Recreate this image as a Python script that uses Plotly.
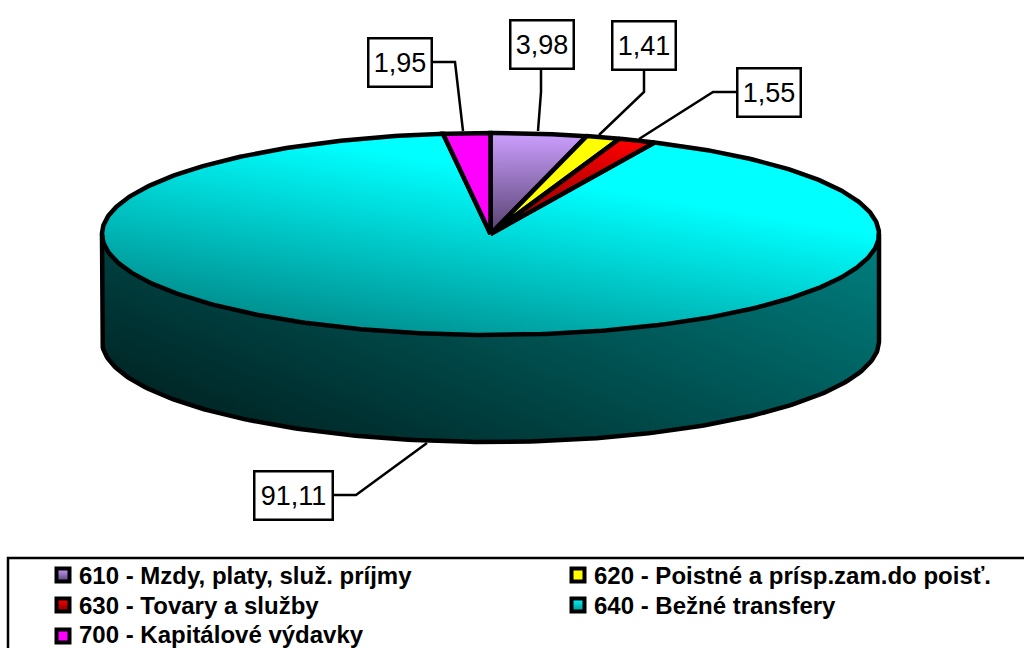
import numpy as np
import plotly.graph_objects as go

kategorie = ['610 - Mzdy, platy, služ. príjmy', '620 - Poistné a prísp.zam.do poisť.',
             '630 - Tovary a služby', '640 - Bežné transfery', '700 - Kapitálové výdavky']
hodnoty = [3.98, 1.41, 1.55, 91.11, 1.95]
farby_hore = ['#cc9fff', '#ffff00', '#ff0000', '#00ffff', '#ff00ff']
farby_dole = ['#54406e', '#ffff00', '#800000', '#009090', '#ff00ff']

# kolac v pixeloch obrazka
CX, CY, RX, RY, HLBKA = 490.5, 234, 388.5, 101, 107
# stred popisu a lomena ciara k okraju kolaca
popisy_x = [541.5, 643.5, 768.5, 293, 399.5]
popisy_y = [44, 45, 92, 495, 62.5]
ciary = [
    [(541, 69), (541, 92), (538, 131)],
    [(644, 70), (644, 92), (599, 135)],
    [(736, 92), (713, 92), (639, 139)],
    [(333, 495), (356, 495), (427, 443)],
    [(432, 62), (455, 62), (463, 131)],
]
legenda_x = [62, 577, 62, 577, 62]
legenda_y = [575, 575, 605, 605, 636]


def bod(uhol):
    return CX + RX * np.sin(uhol), CY - RY * np.cos(uhol)


fig = go.Figure()

# plocha s farebnym prechodom (vrch aj bok)
xs = np.arange(90, 892)
ys = np.arange(125, 452)
X, Y = np.meshgrid(xs, ys)
vrch = ((X - CX) / RX) ** 2 + ((Y - CY) / RY) ** 2 <= 1
bok = (np.abs(X - CX) <= RX) & (Y > CY) & (((X - CX) / RX) ** 2 + ((Y - CY - HLBKA) / RY) ** 2 <= 1 ) | \
      (np.abs(X - CX) <= RX) & (Y > CY) & (Y < CY + HLBKA)
z = np.full(X.shape, np.nan)
z[bok] = (76 - 0.2 * (Y - 340) + 0.08 * (X - 490))[bok]
z[vrch] = (216 - 0.6 * (Y - 234) + 0.1 * (X - 490))[vrch]
fig.add_trace(go.Heatmap(x=xs, y=ys, z=np.clip(z, 0, 255), zmin=0, zmax=255, showscale=False,
                         colorscale=[[0, '#000000'], [1, '#00ffff']], hoverinfo='skip'))

# bok kolaca
t = np.linspace(np.pi / 2, -np.pi / 2, 200)
bx = np.concatenate([[CX - RX], CX - RX * np.sin(t), [CX + RX]])
by = np.concatenate([[CY], CY + HLBKA + RY * np.cos(t), [CY]])
fig.add_trace(go.Scatter(x=bx, y=by, mode='lines', line=dict(color='black', width=4.5), hoverinfo='skip'))

# vysece
kumul = np.cumsum([0] + hodnoty) / sum(hodnoty) * 2 * np.pi
poradie = [3, 0, 1, 2, 4]
for i in poradie:
    uhly = np.linspace(kumul[i], kumul[i + 1], max(int(hodnoty[i] * 6), 12))
    px_, py_ = bod(uhly)
    x = np.concatenate([[CX], px_, [CX]])
    y = np.concatenate([[CY], py_, [CY]])
    if i == 3:
        fig.add_trace(go.Scatter(x=x, y=y, mode='lines', name=kategorie[i], line=dict(color='black', width=4.5)))
    else:
        fig.add_trace(go.Scatter(x=x, y=y, mode='lines', name=kategorie[i], fill='toself',
                                 fillgradient=dict(type='vertical', colorscale=[[0, farby_dole[i]], [1, farby_hore[i]]]),
                                 line=dict(color='black', width=4.5)))

# odkazy na popisy
for c in ciary:
    fig.add_trace(go.Scatter(x=[p[0] for p in c], y=[p[1] for p in c], mode='lines',
                             line=dict(color='black', width=2.5), hoverinfo='skip'))

# popisy hodnot
for i, v in enumerate(hodnoty):
    text = f'{v:.2f}'.replace('.', ',')
    fig.add_annotation(x=popisy_x[i], y=popisy_y[i], xref='x', yref='y', text=text, showarrow=False,
                       font=dict(family='Liberation Sans', size=27, color='black'),
                       width=76 if v > 10 else 61, height=46, bgcolor='white', bordercolor='black',
                       borderwidth=2.5, borderpad=0, align='center', valign='middle')

# legenda
fig.add_shape(type='rect', x0=8, y0=558, x1=1040, y1=670, line=dict(color='black', width=2.5))
for i, nazov in enumerate(kategorie):
    fig.add_trace(go.Scatter(x=[legenda_x[i] + 1], y=[legenda_y[i]], mode='markers', hoverinfo='skip',
                             marker=dict(symbol='square', size=13, color=farby_hore[i],
                                         gradient=dict(type='vertical', color=farby_dole[i]),
                                         line=dict(color='black', width=4))))
    # posledny riadok musi zostat cely v obrazku
    fig.add_annotation(x=legenda_x[i] + 10, y=min(legenda_y[i], 634.5), xref='x', yref='y', text=nazov,
                       showarrow=False, xanchor='left', yanchor='middle', xshift=6, height=27, borderpad=0,
                       font=dict(family='Liberation Sans', size=24, color='black', weight='bold'))

fig.update_layout(
    width=1024, height=648, showlegend=False,
    margin=dict(l=0, r=0, t=0, b=0),
    plot_bgcolor='white', paper_bgcolor='white',
    xaxis=dict(range=[0, 1024], visible=False),
    yaxis=dict(range=[648, 0], visible=False),
)
fig.write_html('out.html', config=dict(displayModeBar=False), post_script="document.body.style.margin='0'")
